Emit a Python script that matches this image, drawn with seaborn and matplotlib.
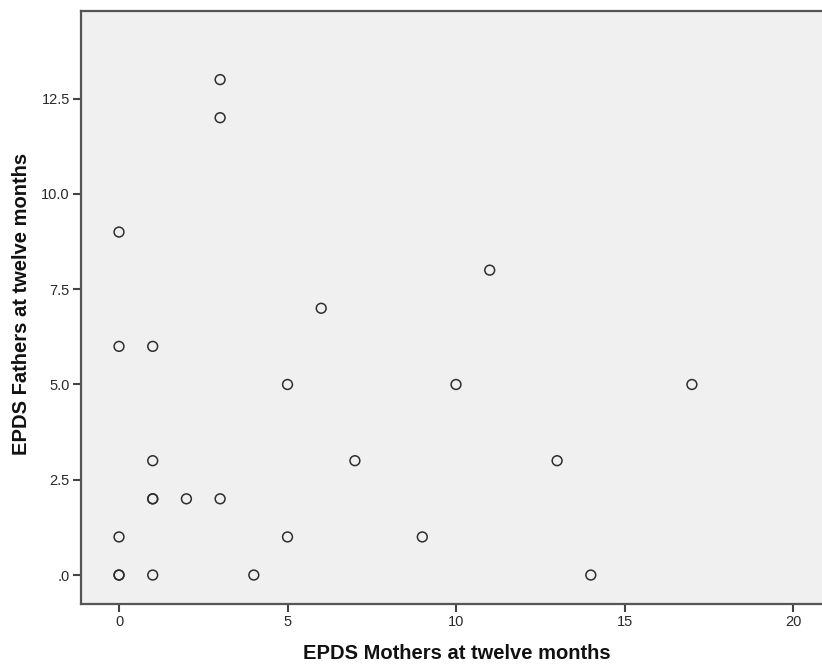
import matplotlib
matplotlib.use("Agg")
import matplotlib.pyplot as plt
import seaborn as sns
import pandas as pd

mothers = [3, 3, 0, 11, 6, 0, 1, 5, 10, 17, 1, 7, 13, 1, 1, 2, 3, 0, 5, 9, 0, 0, 1, 4, 14]
fathers = [13, 12, 9, 8, 7, 6, 6, 5, 5, 5, 3, 3, 3, 2, 2, 2, 2, 1, 1, 1, 0, 0, 0, 0, 0]
y_ticks = [0, 2.5, 5.0, 7.5, 10.0, 12.5]
y_tick_labels = [".0", "2.5", "5.0", "7.5", "10.0", "12.5"]
x_ticks = [0, 5, 10, 15, 20]

df = pd.DataFrame({"EPDS Mothers at twelve months": mothers,
                   "EPDS Fathers at twelve months": fathers})

sns.set_style("white")
plt.rcParams["font.family"] = ["Liberation Sans", "DejaVu Sans"]

fig = plt.figure(figsize=(8.22, 6.68), dpi=100)
ax_w = 840 - 81
ax_h = 604 - 11
ax = fig.add_axes([81 / 822, 1 - 604 / 668, ax_w / 822, ax_h / 668])
ax.set_facecolor("#f0f0f0")

sns.scatterplot(data=df, x="EPDS Mothers at twelve months", y="EPDS Fathers at twelve months",
                ax=ax, marker="o", s=50, facecolor="none", edgecolor="#2e2e2e",
                linewidth=1.1, legend=False)

ax.set_xlim(-1.128, (840 - 119) / 33.7)
ax.set_ylim(-0.76, 14.80)
ax.set_xticks(x_ticks)
ax.set_xticklabels([str(t) for t in x_ticks])
ax.set_yticks(y_ticks)
ax.set_yticklabels(y_tick_labels)

for side in ["left", "bottom", "top", "right"]:
    ax.spines[side].set_color("#555555")
    ax.spines[side].set_linewidth(1.6)

ax.tick_params(axis="both", direction="out", length=6, width=1.5, color="#444444",
               labelsize=10.5, labelcolor="#2a2a2a", pad=2, left=True, bottom=True)

ax.set_xlabel("EPDS Mothers at twelve months", fontsize=14.5, fontweight="bold",
              color="#111111")
ax.set_ylabel("EPDS Fathers at twelve months", fontsize=14.5, fontweight="bold",
              color="#111111")
ax.xaxis.set_label_coords((457 - 81) / ax_w, -(644 - 604) / ax_h)
ax.yaxis.set_label_coords(-(81 - 31) / ax_w, (604 - 304) / ax_h)

fig.savefig("out.png", dpi=100)
